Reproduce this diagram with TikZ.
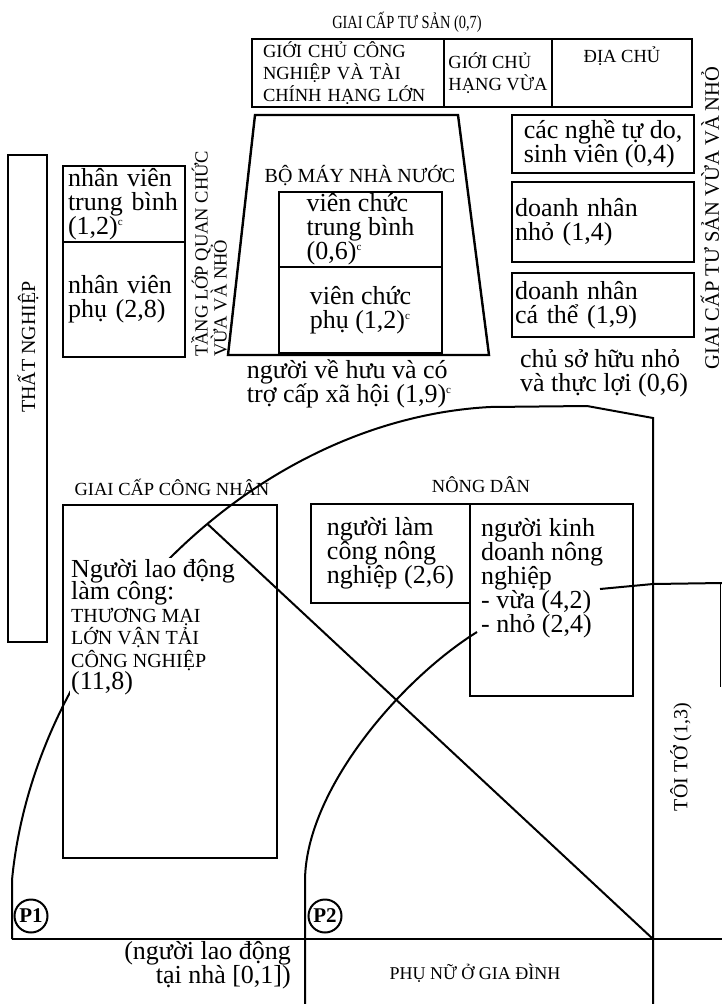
\documentclass[tikz,border=0pt]{standalone}
\usepackage{fontspec}
\setmainfont{Liberation Serif}
\newfontfamily\narrowserif[FakeStretch=0.78]{Liberation Serif}
\newcommand\supc{\raisebox{9pt}{\fontsize{11}{11}\selectfont c}}
\lineskiplimit=-\maxdimen
\begin{document}
\begin{tikzpicture}[x=1pt, y=-1pt,
        frame/.style={line width=2.4pt}, curve/.style={line width=2pt},
        body/.style={font=\fontsize{26}{24}\selectfont, inner sep=0pt},
        caps/.style={font=\fontsize{18.5}{22}\selectfont, inner sep=0pt},
        cell/.style={draw, frame, inner sep=0pt, align=left},
        tag/.style={draw, circle, line width=2pt, inner sep=0pt, minimum size=33pt, font=\fontsize{21}{21}\selectfont\bfseries}]
      \useasboundingbox (0,0) rectangle (722,1004);
      \node[font=\narrowserif\fontsize{18.5}{22}\selectfont, inner sep=0pt] (title) at (407,22) {GIAI CẤP TƯ SẢN (0,7)};
      \node[cell, caps, text width=170pt, inner xsep=11pt, minimum height=68pt] (bigowner) at (348,73) {GIỚI CHỦ CÔNG\\NGHIỆP VÀ TÀI\\CHÍNH HẠNG LỚN};
      \node[cell, caps, minimum width=108pt, minimum height=68pt] (midowner) at (498,73) {GIỚI CHỦ\\HẠNG VỪA};
      \node[cell, caps, align=center, minimum width=140pt, minimum height=68pt, text height=16pt, text depth=37pt] (landlord) at (622,73) {ĐỊA CHỦ};
      \draw[frame] (255,115) -- (458,115) -- (489,355) -- (228,355) -- cycle;
      \node[caps, font=\fontsize{20}{22}\selectfont] (state) at (360,176) {BỘ MÁY NHÀ NƯỚC};
      \node[cell, body, minimum width=163pt, minimum height=75pt] (officialmid) at (360.5,229.5) {viên chức\\trung bình\\(0,6)\supc};
      \node[cell, body, minimum width=163pt, minimum height=86pt] (officiallow) at (360.5,310) {viên chức\\phụ (1,2)\supc};
      \node[cell, minimum width=39pt, minimum height=487pt] (idlebox) at (27.5,398.5) {};
      \node[caps, font=\fontsize{20}{22}\selectfont, rotate=90] (idle) at (28,347) {THẤT NGHIỆP};
      \node[cell, body, text width=112pt, inner xsep=5pt, minimum height=76pt] (staffmid) at (124,204) {nhân viên\\trung bình\\(1,2)\supc};
      \node[cell, body, text width=112pt, inner xsep=5pt, minimum height=115pt] (stafflow) at (124,299.5) {nhân viên\\phụ (2,8)};
      \node[caps, font=\fontsize{18.5}{19}\selectfont, rotate=90, anchor=north west, align=left] (clerks) at (191,357) {TẦNG LỚP QUAN CHỨC\\VỪA VÀ NHỎ};
      \node[cell, body, minimum width=182pt, minimum height=58pt] (free) at (603,144) {các nghề tự do,\\sinh viên (0,4)};
      \node[cell, body, text width=176pt, inner xsep=3pt, minimum height=80pt] (trader) at (603,222) {doanh nhân\\nhỏ (1,4)};
      \node[cell, body, text width=176pt, inner xsep=3pt, minimum height=64pt] (single) at (603,305) {doanh nhân\\cá thể (1,9)};
      \node[body, align=left] (owners) at (604,373) {chủ sở hữu nhỏ\\và thực lợi (0,6)};
      \node[body, align=left] (retired) at (349,384) {người về hưu và có\\trợ cấp xã hội (1,9)\supc};
      \node[caps, font=\fontsize{20.5}{22}\selectfont, rotate=90] (smallbourg) at (710,218) {GIAI CẤP TƯ SẢN VỪA VÀ NHỎ};
      \node[caps] (workers) at (172,487) {GIAI CẤP CÔNG NHÂN};
      \node[cell, minimum width=214pt, minimum height=353pt] (workbox) at (170,681.5) {};
      \node[caps] (farmers) at (481,485) {NÔNG DÂN};
      \node[cell, body, minimum width=159pt, minimum height=99pt] (farmhand) at (390.5,553.5) {người làm\\công nông\\nghiệp (2,6)};
      \node[cell, minimum width=163pt, minimum height=192pt] (farmbox) at (551.5,600) {};
      \node[body, align=left, anchor=north west] (farmer) at (481,518) {người kinh\\doanh nông\\nghiệp\\- vừa (4,2)\\- nhỏ (2,4)};
      \node[tag] (p1) at (31,916) {P1};
      \node[tag] (p2) at (325,916) {P2};
      \node[body, align=right, anchor=north east] (home) at (291,941) {(người lao động\\tại nhà [0,1])};
      \node[caps, font=\fontsize{18}{20}\selectfont] (housewife) at (475,973) {PHỤ NỮ Ở GIA ĐÌNH};
      \node[caps, font=\fontsize{20}{22}\selectfont, rotate=90] (servants) at (681,757) {TÔI TỚ (1,3)};
      \coordinate (split) at (207.5,524);
      \coordinate (corner) at (653,939);
      \draw[curve] (12,939) -- (12,880) .. controls (35,640) and (250,420) .. (490,407) -- (587,406) -- (653,418) -- (653,1004);
      \draw[curve] (split) -- (corner);
      \draw[frame] (12,939) -- (722,939);
      \draw[curve] (305,1004) -- (305,880) .. controls (306,790) and (400,680) .. (477,632);
      \draw[curve] (600,589) -- (653,584) -- (722,583);
      \draw[thin] (720.5,583) -- (720.5,687);
      \node[body, font=\fontsize{26}{22.5}\selectfont, align=left, anchor=north west, fill=white, inner sep=1pt] (labour) at (70,558) {Người lao động\\làm công:\\{\fontsize{20}{22.5}\selectfont THƯƠNG MẠI}\\{\fontsize{20}{22.5}\selectfont LỚN VẬN TẢI}\\{\fontsize{20}{22.5}\selectfont CÔNG NGHIỆP}\\(11,8)};
    \end{tikzpicture}
\end{document}
